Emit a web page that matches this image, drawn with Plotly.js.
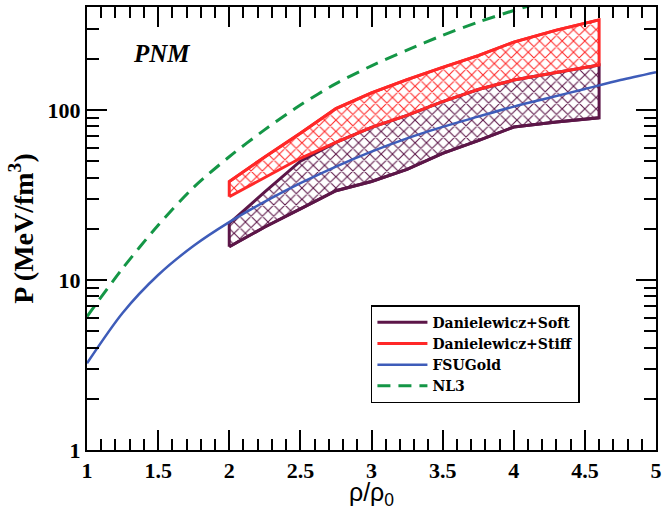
<!DOCTYPE html>
<html>
<head>
<meta charset="utf-8">
<script src="https://cdn.plot.ly/plotly-3.0.1.min.js"></script>
<style>html,body{margin:0;padding:0;background:#fff}#chart{width:662px;height:510px}</style>
</head>
<body>
<div id="chart"></div>
<script>
// Danielewicz bands (x in rho/rho0, P in MeV/fm^3)
const bandX      = [2, 2.25, 2.5, 2.75, 3, 3.25, 3.5, 3.75, 4, 4.3, 4.6];
const softLower  = [15.7, 20.5, 26.2, 33.5, 38, 44.7, 55.6, 66, 79.4, 85, 90];
const softUpper  = [21.5, 33, 50, 64.5, 79, 93, 112, 132, 150, 166, 184];
const stiffLower = [30.9, 40, 52, 64.5, 79, 93, 112, 132, 150, 166, 184];
const stiffUpper = [37.9, 53, 73, 102, 126, 151, 178, 209, 251, 295, 339];

// FSUGold
const fsuX = [1, 1.25, 1.5, 1.75, 2, 2.25, 2.5, 2.75, 3, 3.25, 3.5, 3.75, 4, 4.25, 4.5, 4.75, 5];
const fsuP = [3.24, 6.4, 10.7, 15.9, 21.9, 28.9, 37.1, 46.5, 56.9, 68.1, 79.6, 91.4, 104.7, 118, 133, 150, 167];

// NL3
const nl3X = [1, 1.25, 1.5, 1.75, 2, 2.25, 2.5, 2.75, 3, 3.25, 3.5, 3.75, 4, 4.25];
const nl3P = [6.1, 11.7, 21.0, 35.1, 53.1, 76.7, 107, 143, 182, 225, 275, 329, 385, 444];

const SOFT = 'rgb(92,22,72)';
const STIFF = 'rgb(255,40,40)';
const BLUE = 'rgb(62,92,185)';
const GREEN = 'rgb(20,150,70)';

function polygon(xs, lo, hi) {
  const px = xs.concat(xs.slice().reverse(), [xs[0]]);
  const py = lo.concat(hi.slice().reverse(), [lo[0]]);
  return {x: px, y: py};
}
const softPoly = polygon(bandX, softLower, softUpper);
const stiffPoly = polygon(bandX, stiffLower, stiffUpper);

const traces = [
  {x: softPoly.x, y: softPoly.y, mode: 'lines', fill: 'toself', showlegend: false,
   line: {color: SOFT, width: 3},
   fillcolor: 'rgba(255,255,255,0)',
   fillpattern: {shape: 'x', fgcolor: SOFT, bgcolor: 'rgba(255,255,255,0)', size: 8, solidity: 0.25}},
  {x: bandX, y: softLower, mode: 'lines', name: 'Danielewicz+Soft', line: {color: SOFT, width: 3}},
  {x: stiffPoly.x, y: stiffPoly.y, mode: 'lines', fill: 'toself', showlegend: false,
   line: {color: STIFF, width: 3},
   fillcolor: 'rgba(255,255,255,0)',
   fillpattern: {shape: 'x', fgcolor: STIFF, bgcolor: 'rgba(255,255,255,0)', size: 8, solidity: 0.25}},
  {x: bandX, y: stiffUpper, mode: 'lines', name: 'Danielewicz+Stiff', line: {color: STIFF, width: 3}},
  {x: fsuX, y: fsuP, mode: 'lines', name: 'FSUGold', line: {color: BLUE, width: 2.5, shape: 'spline', smoothing: 0.8}},
  {x: nl3X, y: nl3P, mode: 'lines', name: 'NL3', line: {color: GREEN, width: 3, dash: '13px,8px', shape: 'spline', smoothing: 0.8}}
];

const serif = 'Liberation Serif, Times New Roman, serif';
const axisCommon = {
  showgrid: false, zeroline: false, showline: true, linecolor: 'black', linewidth: 2,
  mirror: 'allticks', ticks: 'inside', ticklen: 20, tickwidth: 2, tickcolor: 'black',
  tickfont: {family: serif, size: 22, color: 'black', weight: 'bold'}
};

const layout = {
  width: 662, height: 510,
  margin: {l: 87, r: 6, t: 7, b: 60},
  paper_bgcolor: 'white', plot_bgcolor: 'white',
  showlegend: true,
  legend: {
    x: 0.499, y: 0.327, xanchor: 'left', yanchor: 'top',
    bgcolor: 'white', bordercolor: 'black', borderwidth: 1.5,
    font: {family: 'DejaVu Serif, serif', size: 14, color: 'black', weight: 'bold'},
    tracegroupgap: 0, itemwidth: 50
  },
  xaxis: Object.assign({}, axisCommon, {
    range: [1, 5], dtick: 0.5, tick0: 1,
    minor: {dtick: 0.1, ticks: 'inside', ticklen: 11, tickwidth: 2, tickcolor: 'black', showgrid: false},
    title: {text: 'ρ/ρ<sub>0</sub>', font: {family: 'Liberation Sans, Arial, sans-serif', size: 25, color: 'black'}, standoff: 6}
  }),
  yaxis: Object.assign({}, axisCommon, {
    type: 'log', range: [0, 2.606], dtick: 1,
    minor: {dtick: 'D1', ticks: 'inside', ticklen: 12, tickwidth: 2, tickcolor: 'black', showgrid: false},
    title: {text: '<b>P (MeV/fm<sup>3</sup>)</b>', font: {family: serif, size: 28, color: 'black'}, standoff: 6}
  }),
  annotations: [{
    text: '<b><i>PNM</i></b>', xref: 'paper', yref: 'paper',
    x: (161 - 87) / 569, y: (450 - 54) / 443, xanchor: 'center', yanchor: 'middle',
    showarrow: false, font: {family: serif, size: 25, color: 'black'}
  }]
};

Plotly.newPlot('chart', traces, layout, {displayModeBar: false, staticPlot: true});
</script>
</body>
</html>
